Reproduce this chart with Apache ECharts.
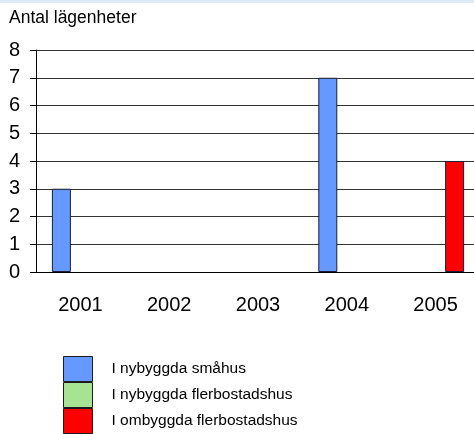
<!DOCTYPE html>
<html>
<head>
<meta charset="utf-8">
<script src="https://cdn.jsdelivr.net/npm/echarts@6/dist/echarts.min.js"></script>
<style>
html, body { margin: 0; padding: 0; background: #fff; overflow: hidden; }
#chart { width: 480px; height: 434px; }
</style>
</head>
<body>
<div id="chart"></div>
<script>
// data
var years = ['2001', '2002', '2003', '2004', '2005'];
var smahus = [3, 0, 0, 7, 0];
var nyFler = [0, 0, 0, 0, 0];
var omFler = [0, 0, 0, 0, 4];
var seriesNames = ['I nybyggda småhus', 'I nybyggda flerbostadshus', 'I ombyggda flerbostadshus'];
var yTicks = [0, 8, 1];

var chart = echarts.init(document.getElementById('chart'));

function bar(name, data, color) {
	return {
		name: name,
		type: 'bar',
		// empty bars are not drawn in the original, so no border either
		data: data.map(function (v) { return v === 0 ? '-' : v; }),
		barWidth: 19,
		barGap: '0%',
		itemStyle: { color: color, borderColor: '#1c1c3a', borderWidth: 1 }
	};
}

var option = {
	animation: false,
	textStyle: { fontFamily: 'Liberation Sans, Arial, sans-serif' },
	graphic: [
		{ type: 'rect', shape: { x: 0, y: 0, width: 480, height: 3 }, style: { fill: '#dfeaf8' } }
	],
	title: {
		text: 'Antal lägenheter',
		left: 9,
		top: 9,
		padding: 0,
		textStyle: { fontSize: 17.5, fontWeight: 'normal', color: '#000' }
	},
	legend: {
		orient: 'vertical',
		left: 63,
		top: 356,
		height: 120,
		padding: 0,
		itemWidth: 29,
		itemHeight: 25,
		itemGap: 0,
		icon: 'rect',
		itemStyle: { borderColor: '#1c1c1c', borderWidth: 1 },
		textStyle: { fontSize: 15.5, color: '#000', padding: [0, 0, 0, 14] },
		data: seriesNames
	},
	grid: { left: 36, top: 50, right: 0, bottom: 162 },
	xAxis: {
		type: 'category',
		data: years,
		axisLine: { lineStyle: { color: '#000', width: 1 } },
		axisTick: { show: false },
		axisLabel: { fontSize: 20, color: '#000', margin: 23 }
	},
	yAxis: {
		type: 'value',
		min: yTicks[0],
		max: yTicks[1],
		interval: yTicks[2],
		axisLine: { show: true, lineStyle: { color: '#000' } },
		axisTick: { show: true, length: 6, lineStyle: { color: '#000' } },
		axisLabel: { fontSize: 20, color: '#000', margin: 16 },
		splitLine: { lineStyle: { color: '#333', width: 1 } }
	},
	series: [
		bar(seriesNames[0], smahus, '#6699ff'),
		bar(seriesNames[1], nyFler, '#a6e393'),
		bar(seriesNames[2], omFler, '#ff0000')
	]
};
chart.setOption(option);
</script>
</body>
</html>
